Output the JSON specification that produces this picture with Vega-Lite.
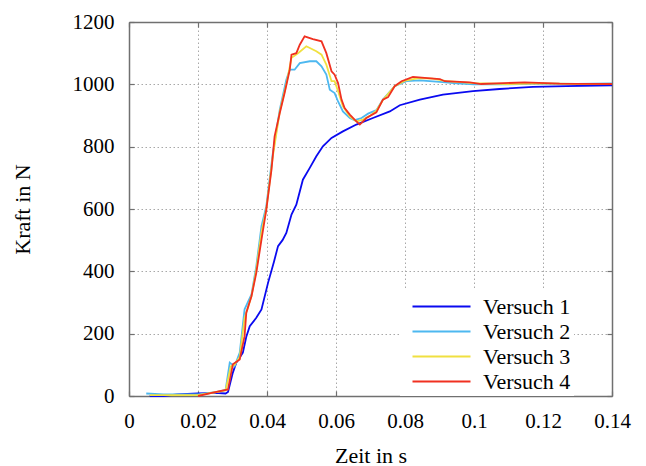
{
  "$schema": "https://vega.github.io/schema/vega-lite/v6.json",
  "width": 483,
  "height": 374,
  "autosize": {"type": "none"},
  "padding": {"left": 129, "top": 22, "right": 34, "bottom": 70},
  "background": "white",
  "config": {
    "font": "Liberation Serif",
    "view": {"stroke": null},
    "axis": {
      "labelFont": "Liberation Serif",
      "titleFont": "Liberation Serif",
      "labelFontSize": 21,
      "titleFontSize": 22,
      "labelColor": "black",
      "titleColor": "black",
      "titleFontWeight": "normal",
      "labelFlush": false,
      "labelOverlap": false,
      "domainColor": "#707070",
      "domainWidth": 1.5,
      "tickColor": "#707070",
      "tickWidth": 1.2,
      "gridColor": "#a8a8a8",
      "gridDash": [1.5, 2.5],
      "gridWidth": 1
    },
    "legend": {
      "labelFont": "Liberation Serif",
      "labelFontSize": 22,
      "labelColor": "black"
    }
  },
  "datasets": {
    "d": [
      {"t": 0.006, "F": 0, "s": "Versuch 1"},
      {"t": 0.010, "F": 0, "s": "Versuch 1"},
      {"t": 0.014, "F": 5, "s": "Versuch 1"},
      {"t": 0.020, "F": 8, "s": "Versuch 1"},
      {"t": 0.025, "F": 10, "s": "Versuch 1"},
      {"t": 0.028, "F": 8, "s": "Versuch 1"},
      {"t": 0.0287, "F": 13, "s": "Versuch 1"},
      {"t": 0.0301, "F": 75, "s": "Versuch 1"},
      {"t": 0.0311, "F": 107, "s": "Versuch 1"},
      {"t": 0.0322, "F": 125, "s": "Versuch 1"},
      {"t": 0.0330, "F": 139, "s": "Versuch 1"},
      {"t": 0.0340, "F": 190, "s": "Versuch 1"},
      {"t": 0.0350, "F": 224, "s": "Versuch 1"},
      {"t": 0.0369, "F": 251, "s": "Versuch 1"},
      {"t": 0.0384, "F": 278, "s": "Versuch 1"},
      {"t": 0.0403, "F": 363, "s": "Versuch 1"},
      {"t": 0.0420, "F": 430, "s": "Versuch 1"},
      {"t": 0.0432, "F": 481, "s": "Versuch 1"},
      {"t": 0.0445, "F": 500, "s": "Versuch 1"},
      {"t": 0.0456, "F": 523, "s": "Versuch 1"},
      {"t": 0.0471, "F": 582, "s": "Versuch 1"},
      {"t": 0.0485, "F": 614, "s": "Versuch 1"},
      {"t": 0.0504, "F": 694, "s": "Versuch 1"},
      {"t": 0.0524, "F": 732, "s": "Versuch 1"},
      {"t": 0.0543, "F": 769, "s": "Versuch 1"},
      {"t": 0.0562, "F": 801, "s": "Versuch 1"},
      {"t": 0.0587, "F": 828, "s": "Versuch 1"},
      {"t": 0.0620, "F": 849, "s": "Versuch 1"},
      {"t": 0.0659, "F": 871, "s": "Versuch 1"},
      {"t": 0.0707, "F": 892, "s": "Versuch 1"},
      {"t": 0.0756, "F": 913, "s": "Versuch 1"},
      {"t": 0.0785, "F": 933, "s": "Versuch 1"},
      {"t": 0.0843, "F": 951, "s": "Versuch 1"},
      {"t": 0.0910, "F": 967, "s": "Versuch 1"},
      {"t": 0.0997, "F": 978, "s": "Versuch 1"},
      {"t": 0.1074, "F": 985, "s": "Versuch 1"},
      {"t": 0.1171, "F": 992, "s": "Versuch 1"},
      {"t": 0.1268, "F": 994, "s": "Versuch 1"},
      {"t": 0.14, "F": 997, "s": "Versuch 1"},

      {"t": 0.005, "F": 8, "s": "Versuch 2"},
      {"t": 0.010, "F": 5, "s": "Versuch 2"},
      {"t": 0.020, "F": 5, "s": "Versuch 2"},
      {"t": 0.025, "F": 12, "s": "Versuch 2"},
      {"t": 0.028, "F": 20, "s": "Versuch 2"},
      {"t": 0.0292, "F": 107, "s": "Versuch 2"},
      {"t": 0.0306, "F": 95, "s": "Versuch 2"},
      {"t": 0.0321, "F": 139, "s": "Versuch 2"},
      {"t": 0.0335, "F": 278, "s": "Versuch 2"},
      {"t": 0.0355, "F": 326, "s": "Versuch 2"},
      {"t": 0.0369, "F": 417, "s": "Versuch 2"},
      {"t": 0.0384, "F": 545, "s": "Versuch 2"},
      {"t": 0.0398, "F": 609, "s": "Versuch 2"},
      {"t": 0.0417, "F": 780, "s": "Versuch 2"},
      {"t": 0.0437, "F": 919, "s": "Versuch 2"},
      {"t": 0.0456, "F": 1015, "s": "Versuch 2"},
      {"t": 0.0466, "F": 1047, "s": "Versuch 2"},
      {"t": 0.0480, "F": 1047, "s": "Versuch 2"},
      {"t": 0.0495, "F": 1068, "s": "Versuch 2"},
      {"t": 0.0524, "F": 1074, "s": "Versuch 2"},
      {"t": 0.0543, "F": 1074, "s": "Versuch 2"},
      {"t": 0.0558, "F": 1058, "s": "Versuch 2"},
      {"t": 0.0572, "F": 1031, "s": "Versuch 2"},
      {"t": 0.0582, "F": 983, "s": "Versuch 2"},
      {"t": 0.0596, "F": 972, "s": "Versuch 2"},
      {"t": 0.0606, "F": 945, "s": "Versuch 2"},
      {"t": 0.0620, "F": 913, "s": "Versuch 2"},
      {"t": 0.0640, "F": 892, "s": "Versuch 2"},
      {"t": 0.0654, "F": 885, "s": "Versuch 2"},
      {"t": 0.0674, "F": 892, "s": "Versuch 2"},
      {"t": 0.0693, "F": 906, "s": "Versuch 2"},
      {"t": 0.0717, "F": 917, "s": "Versuch 2"},
      {"t": 0.0736, "F": 951, "s": "Versuch 2"},
      {"t": 0.0770, "F": 994, "s": "Versuch 2"},
      {"t": 0.0804, "F": 1010, "s": "Versuch 2"},
      {"t": 0.0843, "F": 1013, "s": "Versuch 2"},
      {"t": 0.090, "F": 1008, "s": "Versuch 2"},
      {"t": 0.095, "F": 1003, "s": "Versuch 2"},
      {"t": 0.100, "F": 1000, "s": "Versuch 2"},
      {"t": 0.110, "F": 1000, "s": "Versuch 2"},
      {"t": 0.120, "F": 1002, "s": "Versuch 2"},
      {"t": 0.130, "F": 1001, "s": "Versuch 2"},
      {"t": 0.14, "F": 1003, "s": "Versuch 2"},

      {"t": 0.006, "F": 3, "s": "Versuch 3"},
      {"t": 0.020, "F": 3, "s": "Versuch 3"},
      {"t": 0.025, "F": 12, "s": "Versuch 3"},
      {"t": 0.028, "F": 18, "s": "Versuch 3"},
      {"t": 0.0295, "F": 95, "s": "Versuch 3"},
      {"t": 0.0306, "F": 100, "s": "Versuch 3"},
      {"t": 0.0321, "F": 125, "s": "Versuch 3"},
      {"t": 0.0335, "F": 250, "s": "Versuch 3"},
      {"t": 0.0355, "F": 320, "s": "Versuch 3"},
      {"t": 0.0369, "F": 405, "s": "Versuch 3"},
      {"t": 0.0384, "F": 525, "s": "Versuch 3"},
      {"t": 0.0398, "F": 600, "s": "Versuch 3"},
      {"t": 0.0417, "F": 770, "s": "Versuch 3"},
      {"t": 0.0437, "F": 912, "s": "Versuch 3"},
      {"t": 0.0456, "F": 1000, "s": "Versuch 3"},
      {"t": 0.0471, "F": 1085, "s": "Versuch 3"},
      {"t": 0.0490, "F": 1100, "s": "Versuch 3"},
      {"t": 0.0514, "F": 1122, "s": "Versuch 3"},
      {"t": 0.0543, "F": 1106, "s": "Versuch 3"},
      {"t": 0.0558, "F": 1095, "s": "Versuch 3"},
      {"t": 0.0572, "F": 1063, "s": "Versuch 3"},
      {"t": 0.0587, "F": 1010, "s": "Versuch 3"},
      {"t": 0.0596, "F": 1010, "s": "Versuch 3"},
      {"t": 0.0606, "F": 978, "s": "Versuch 3"},
      {"t": 0.0620, "F": 929, "s": "Versuch 3"},
      {"t": 0.0640, "F": 897, "s": "Versuch 3"},
      {"t": 0.0659, "F": 881, "s": "Versuch 3"},
      {"t": 0.0678, "F": 887, "s": "Versuch 3"},
      {"t": 0.0700, "F": 900, "s": "Versuch 3"},
      {"t": 0.0717, "F": 915, "s": "Versuch 3"},
      {"t": 0.0736, "F": 950, "s": "Versuch 3"},
      {"t": 0.0770, "F": 994, "s": "Versuch 3"},
      {"t": 0.0800, "F": 1012, "s": "Versuch 3"},
      {"t": 0.0840, "F": 1020, "s": "Versuch 3"},
      {"t": 0.088, "F": 1018, "s": "Versuch 3"},
      {"t": 0.092, "F": 1010, "s": "Versuch 3"},
      {"t": 0.100, "F": 1004, "s": "Versuch 3"},
      {"t": 0.110, "F": 1001, "s": "Versuch 3"},
      {"t": 0.120, "F": 1003, "s": "Versuch 3"},
      {"t": 0.130, "F": 1001, "s": "Versuch 3"},
      {"t": 0.14, "F": 1001, "s": "Versuch 3"},

      {"t": 0.020, "F": 0, "s": "Versuch 4"},
      {"t": 0.024, "F": 10, "s": "Versuch 4"},
      {"t": 0.0287, "F": 21, "s": "Versuch 4"},
      {"t": 0.0301, "F": 102, "s": "Versuch 4"},
      {"t": 0.0321, "F": 117, "s": "Versuch 4"},
      {"t": 0.0335, "F": 192, "s": "Versuch 4"},
      {"t": 0.0340, "F": 267, "s": "Versuch 4"},
      {"t": 0.0355, "F": 320, "s": "Versuch 4"},
      {"t": 0.0369, "F": 395, "s": "Versuch 4"},
      {"t": 0.0384, "F": 502, "s": "Versuch 4"},
      {"t": 0.0398, "F": 598, "s": "Versuch 4"},
      {"t": 0.0413, "F": 726, "s": "Versuch 4"},
      {"t": 0.0422, "F": 833, "s": "Versuch 4"},
      {"t": 0.0437, "F": 908, "s": "Versuch 4"},
      {"t": 0.0451, "F": 972, "s": "Versuch 4"},
      {"t": 0.0466, "F": 1047, "s": "Versuch 4"},
      {"t": 0.0471, "F": 1095, "s": "Versuch 4"},
      {"t": 0.0485, "F": 1100, "s": "Versuch 4"},
      {"t": 0.0495, "F": 1127, "s": "Versuch 4"},
      {"t": 0.0509, "F": 1154, "s": "Versuch 4"},
      {"t": 0.0533, "F": 1145, "s": "Versuch 4"},
      {"t": 0.0558, "F": 1138, "s": "Versuch 4"},
      {"t": 0.0572, "F": 1100, "s": "Versuch 4"},
      {"t": 0.0587, "F": 1042, "s": "Versuch 4"},
      {"t": 0.0596, "F": 1031, "s": "Versuch 4"},
      {"t": 0.0606, "F": 1004, "s": "Versuch 4"},
      {"t": 0.0616, "F": 951, "s": "Versuch 4"},
      {"t": 0.0625, "F": 924, "s": "Versuch 4"},
      {"t": 0.0640, "F": 903, "s": "Versuch 4"},
      {"t": 0.0654, "F": 887, "s": "Versuch 4"},
      {"t": 0.0669, "F": 871, "s": "Versuch 4"},
      {"t": 0.0688, "F": 892, "s": "Versuch 4"},
      {"t": 0.0717, "F": 910, "s": "Versuch 4"},
      {"t": 0.0736, "F": 951, "s": "Versuch 4"},
      {"t": 0.0751, "F": 959, "s": "Versuch 4"},
      {"t": 0.0770, "F": 994, "s": "Versuch 4"},
      {"t": 0.0790, "F": 1010, "s": "Versuch 4"},
      {"t": 0.0823, "F": 1024, "s": "Versuch 4"},
      {"t": 0.0857, "F": 1021, "s": "Versuch 4"},
      {"t": 0.0901, "F": 1017, "s": "Versuch 4"},
      {"t": 0.0915, "F": 1010, "s": "Versuch 4"},
      {"t": 0.0988, "F": 1006, "s": "Versuch 4"},
      {"t": 0.1021, "F": 1001, "s": "Versuch 4"},
      {"t": 0.1065, "F": 1003, "s": "Versuch 4"},
      {"t": 0.1147, "F": 1006, "s": "Versuch 4"},
      {"t": 0.1248, "F": 1002, "s": "Versuch 4"},
      {"t": 0.14, "F": 1001, "s": "Versuch 4"}
    ]
  },
  "data": {"name": "d"},
  "layer": [
    {
      "mark": {"type": "line", "strokeWidth": 1.8, "interpolate": "linear"},
      "encoding": {
        "x": {
          "field": "t", "type": "quantitative",
          "scale": {"domain": [0, 0.14], "nice": false, "zero": false},
          "axis": {
            "orient": "bottom",
            "title": "Zeit in s",
            "values": [0, 0.02, 0.04, 0.06, 0.08, 0.1, 0.12, 0.14],
            "format": "~g",
            "grid": true,
            "tickSize": -5,
            "labelPadding": 19,
            "titlePadding": 14
          }
        },
        "y": {
          "field": "F", "type": "quantitative",
          "scale": {"domain": [0, 1200], "nice": false},
          "axis": {
            "orient": "left",
            "title": "Kraft in N",
            "values": [0, 200, 400, 600, 800, 1000, 1200],
            "format": "d",
            "grid": true,
            "tickSize": -5,
            "labelPadding": 20,
            "titlePadding": 38
          }
        },
        "color": {
          "field": "s", "type": "nominal",
          "scale": {
            "domain": ["Versuch 1", "Versuch 2", "Versuch 3", "Versuch 4"],
            "range": ["#0a0af0", "#4db8f0", "#f0e040", "#f03020"]
          },
          "legend": {
            "title": null,
            "orient": "none",
            "legendX": 271,
            "legendY": 268,
            "fillColor": "white",
            "padding": 3,
            "symbolType": "M-2.32,0H2.32",
            "symbolSize": 625,
            "symbolStrokeWidth": 2,
            "symbolOffset": 25,
            "labelOffset": 28,
            "rowPadding": 0
          }
        }
      }
    },
    {
      "mark": {"type": "line", "opacity": 0},
      "encoding": {
        "x": {
          "field": "t", "type": "quantitative",
          "axis": {
            "orient": "top", "title": null, "labels": false, "grid": false,
            "values": [0, 0.02, 0.04, 0.06, 0.08, 0.1, 0.12, 0.14],
            "tickSize": -5
          }
        },
        "y": {
          "field": "F", "type": "quantitative",
          "axis": {
            "orient": "right", "title": null, "labels": false, "grid": false,
            "values": [0, 200, 400, 600, 800, 1000, 1200],
            "tickSize": -5
          }
        },
        "detail": {"field": "s"}
      }
    }
  ]
}
